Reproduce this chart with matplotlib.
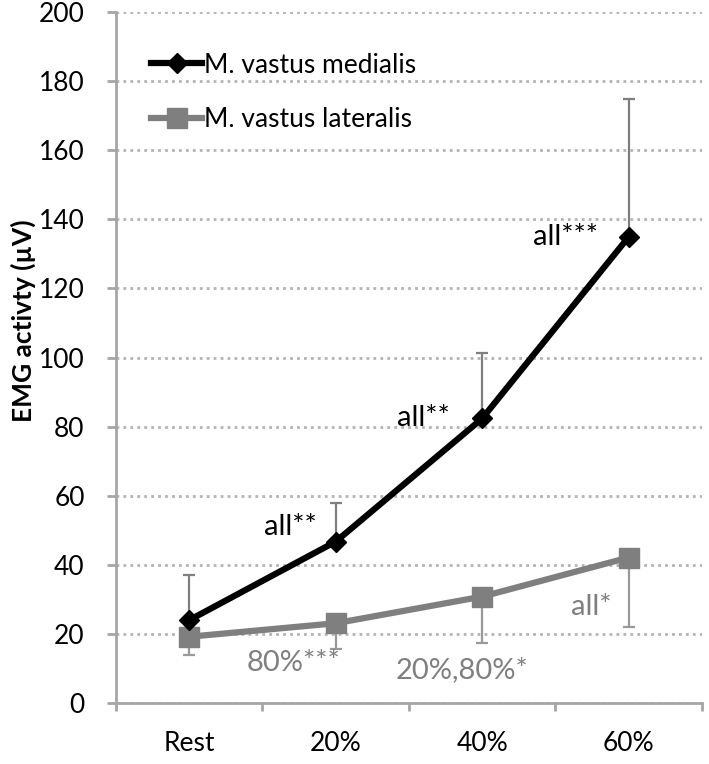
import numpy as np
import matplotlib
matplotlib.use("Agg")
from matplotlib import pyplot as plt
from matplotlib.ticker import MultipleLocator, FixedLocator

plt.rcParams['font.family'] = ['Lato', 'DejaVu Sans']

# Data
categories = ["Rest", "20%", "40%", "60%"]
medialis = [24.1, 46.8, 82.4, 134.9]
medialis_err_up = [13.0, 11.3, 19.0, 40.0]
lateralis = [19.3, 23.2, 30.9, 42.2]
lateralis_err_down = [5.3, 7.5, 13.5, 20.0]

# Significance labels: (text, x, y, color, ha)
notes = [
    ("all**", 0.87, 51.0, "black", "right"),
    ("all**", 1.78, 82.5, "black", "right"),
    ("all***", 2.79, 135.0, "black", "right"),
    ("80%***", 0.71, 11.7, "#7f7f7f", "center"),
    ("20%,80%*", 1.86, 9.7, "#7f7f7f", "center"),
    ("all*", 2.88, 28.0, "#7f7f7f", "right"),
]

x = np.arange(len(categories))
grey = "#7f7f7f"
axis_grey = "#a6a6a6"

fig = plt.figure(figsize=(7.09, 7.64), dpi=100)
ax = fig.add_axes([0.1636, 0.0792, 0.8264, 0.9055])

# error bars (one-sided)
ax.errorbar(x, medialis, yerr=[np.zeros(4), medialis_err_up], fmt="none",
            ecolor=grey, elinewidth=1.6, capsize=4.5, capthick=1.6, zorder=2)
ax.errorbar(x, lateralis, yerr=[lateralis_err_down, np.zeros(4)], fmt="none",
            ecolor="#999999", elinewidth=1.6, capsize=4.5, capthick=1.6, zorder=2)

ax.plot(x, medialis, color="black", lw=4.5, marker="D", ms=10, zorder=4,
        label="M. vastus medialis")
ax.plot(x, lateralis, color=grey, lw=4.5, marker="s", ms=15, zorder=3,
        label="M. vastus lateralis")

for txt, tx, ty, c, ha in notes:
    ax.text(tx, ty, txt, color=c, ha=ha, va="center", fontsize=21)

ax.set_xlim(-0.5, 3.5)
ax.set_ylim(0, 200)
ax.yaxis.set_major_locator(MultipleLocator(20))
ax.set_xticks(x)
ax.set_xticklabels(categories)
ax.xaxis.set_minor_locator(FixedLocator(np.arange(-0.5, 3.6, 1.0)))
ax.tick_params(axis="x", which="major", length=0, pad=20, labelsize=19)
ax.tick_params(axis="x", which="minor", length=6, width=2, color=axis_grey,
               direction="out")
ax.tick_params(axis="y", length=6.5, width=2, color=axis_grey, pad=16,
               labelsize=19)

ax.grid(axis="y", color="#b3b3b3", linestyle=(0, (1, 1.5)), linewidth=2)
ax.set_axisbelow(True)

for side in ["top", "right"]:
    ax.spines[side].set_visible(False)
for side in ["left", "bottom"]:
    ax.spines[side].set_color(axis_grey)
    ax.spines[side].set_linewidth(2)

ax.set_ylabel("EMG activty (µV)", fontsize=19, fontweight="bold")
ax.yaxis.set_label_coords(-0.136, 0.554)

ax.legend(loc="upper left", bbox_to_anchor=(0.02, 0.975), frameon=False,
          fontsize=19, handlelength=1.9, handletextpad=0.1, labelspacing=1.1)

fig.savefig("out.png", dpi=100)
